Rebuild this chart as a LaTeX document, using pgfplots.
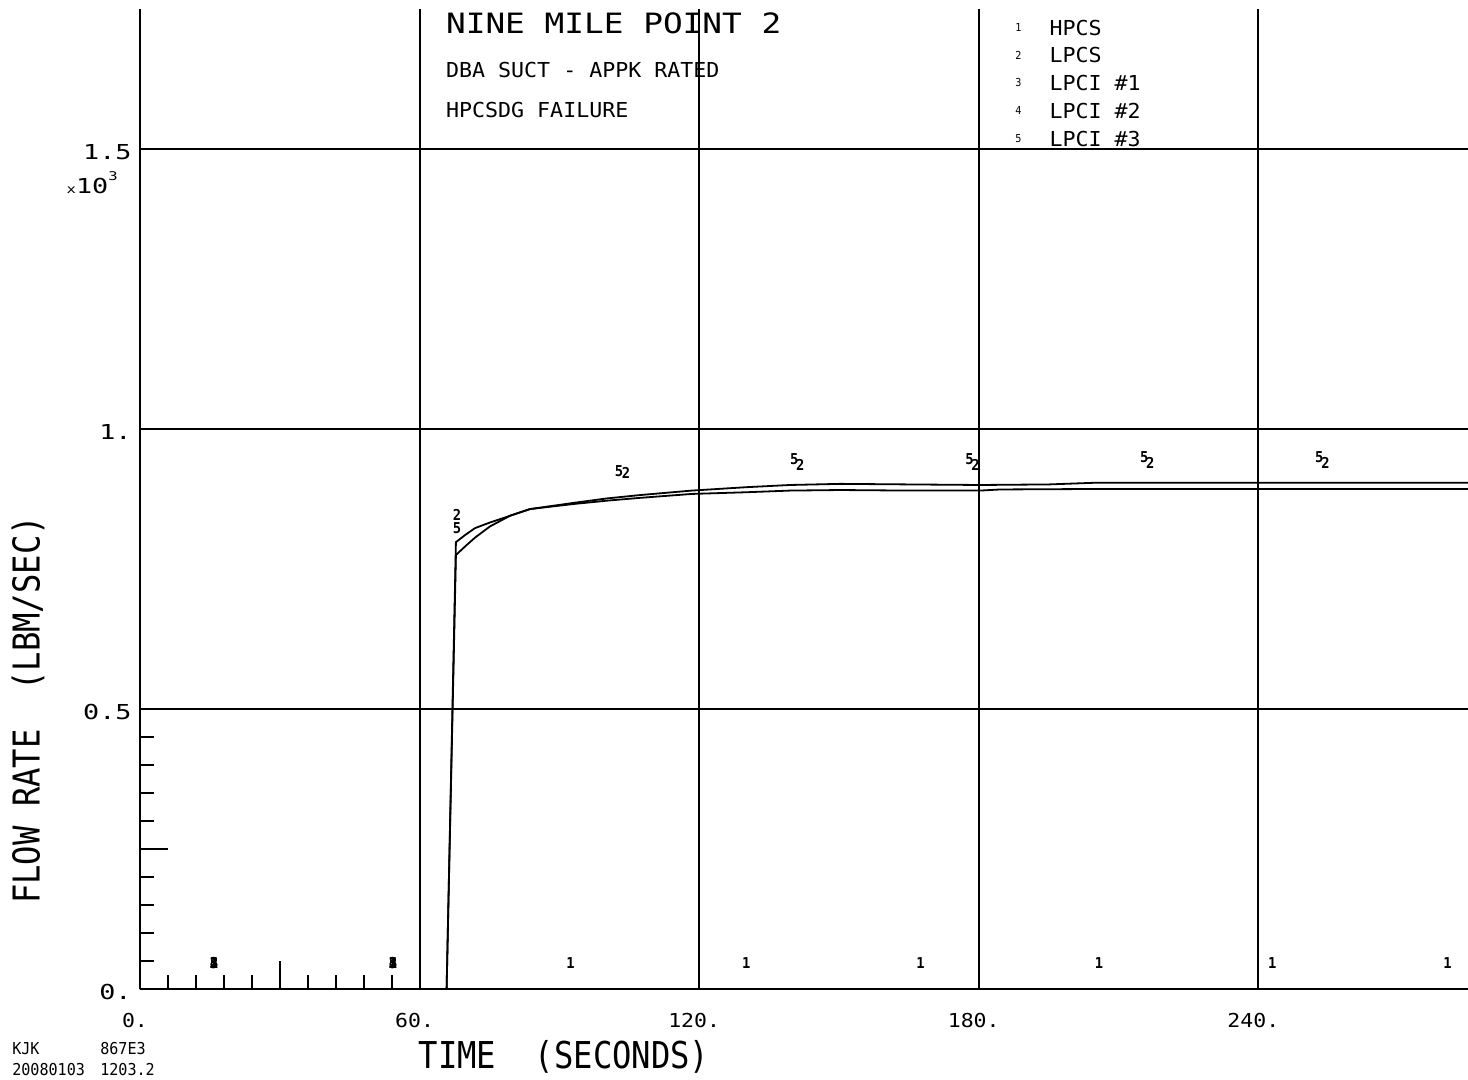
\documentclass[border=0pt]{standalone}
\usepackage{pgfplots}
\pgfplotsset{compat=1.18}
\usepackage{fontspec}
\setmainfont{DejaVu Sans Mono}
\newfontfamily\fTitle{DejaVu Sans Mono}[FakeStretch=1.17]
\newfontfamily\fSub{DejaVu Sans Mono}[FakeStretch=1.05]
\newfontfamily\fYtick{DejaVu Sans Mono}[FakeStretch=1.3]
\newfontfamily\fXtick{DejaVu Sans Mono}[FakeStretch=1.12]
\newfontfamily\fLab{DejaVu Sans Mono}[FakeStretch=0.87]
\newfontfamily\fSmall{DejaVu Sans Mono}[FakeStretch=0.92]
\newcommand\labfont{\fSmall\bfseries\fontsize{7.5}{8}\selectfont}
\newcommand\legdigit{\fSmall\fontsize{5.5}{6}\selectfont}

\pgfplotstableread{
t v
0 0
65.8 0
67.8 798
70 812
71.9 823
75.1 833
79.4 845
83.7 857
93 866
100.2 872
107.3 877
118.4 884
130 887
139.5 890
150.3 891
165 890
180.3 890
184.6 892
208 893
285 893
}\lpcs
\pgfplotstableread{
t v
0 0
65.8 0
67.8 775
70 792
71.9 806
75.1 826
79.4 845
83.7 857
93 868
100.2 876
107.3 882
118.4 890
130 896
139.5 900
150.3 902
165 901
180.3 900
195 901
205 904
285 904
}\lpcithree

\begin{document}
\begin{tikzpicture}
\begin{axis}[name=ax, scale only axis, width=664pt, height=490pt,
  xmin=0, xmax=285, ymin=0, ymax=1750,
  axis x line=bottom, axis y line=left,
  axis line style={-, line width=1pt},
  xtick={0,60,120,180,240}, xticklabels={0.,60.,120.,180.,240.},
  ytick={0,500,1000,1500}, yticklabels={0.,0.5,1.,1.5},
  major tick length=0pt,
  grid=major, major grid style={black, line width=1pt},
  xticklabel style={font=\fXtick\fontsize{9.6}{10}\selectfont, anchor=north, inner sep=0pt, yshift=-12pt, xshift=-2.5pt},
  yticklabel style={font=\fYtick\fontsize{10.3}{11}\selectfont, anchor=east, inner sep=0pt, xshift=-4pt, yshift=-1.5pt},
  xlabel={TIME\ \ (SECONDS)}, ylabel={FLOW RATE\ \ (LBM/SEC)},
  xlabel style={at={(rel axis cs:0.3193,-0.0694)}, anchor=center, inner sep=0pt, font=\fLab\fontsize{18.5}{19}\selectfont},
  ylabel style={at={(rel axis cs:-0.0843,0.2847)}, anchor=center, inner sep=0pt, font=\fLab\fontsize{18.5}{19}\selectfont},
  clip=false,
  legend style={at={(axis cs:187.8,1731)}, anchor=north west, draw=none, fill=none,
    inner sep=0pt, row sep=6.4pt, column sep=0pt,
    font=\fSub\fontsize{10.3}{11}\selectfont,
    nodes={inner sep=0pt, text height=7.5pt, text depth=0pt}},
  legend cell align=left,
  every axis plot/.append style={line width=0.9pt, black},
]
% curves
\addplot[mark=none, legend image code/.code={\node[font=\legdigit, inner sep=0pt, text height=3.8pt, anchor=center] at (0pt,0pt) {1}; \path[draw=none] (0pt,0pt) -- (15.5pt,0pt);}] coordinates {(0,0) (285,0)};
\addlegendentry{HPCS}
\addplot[mark=none, legend image code/.code={\node[font=\legdigit, inner sep=0pt, text height=3.8pt, anchor=center] at (0pt,0pt) {2}; \path[draw=none] (0pt,0pt) -- (15.5pt,0pt);}] table[x=t, y=v] {\lpcs};
\addlegendentry{LPCS}
\addplot[mark=none, legend image code/.code={\node[font=\legdigit, inner sep=0pt, text height=3.8pt, anchor=center] at (0pt,0pt) {3}; \path[draw=none] (0pt,0pt) -- (15.5pt,0pt);}] coordinates {(0,0) (285,0)};
\addlegendentry{LPCI \#1}
\addplot[mark=none, legend image code/.code={\node[font=\legdigit, inner sep=0pt, text height=3.8pt, anchor=center] at (0pt,0pt) {4}; \path[draw=none] (0pt,0pt) -- (15.5pt,0pt);}] coordinates {(0,0) (285,0)};
\addlegendentry{LPCI \#2}
\addplot[mark=none, legend image code/.code={\node[font=\legdigit, inner sep=0pt, text height=3.8pt, anchor=center] at (0pt,0pt) {5}; \path[draw=none] (0pt,0pt) -- (15.5pt,0pt);}] table[x=t, y=v] {\lpcithree};
\addlegendentry{LPCI \#3}

% curve symbols
\addplot[forget plot, draw=none, mark=none, nodes near coords={1},
  every node near coord/.style={anchor=center, yshift=13pt, inner sep=0pt, font=\labfont}]
  coordinates {(15.9,0) (54.3,0) (92.4,0) (130.1,0) (167.5,0) (205.8,0) (243,0) (280.6,0)};
\addplot[forget plot, draw=none, mark=none, nodes near coords={2},
  every node near coord/.style={anchor=center, yshift=13pt, inner sep=0pt, font=\labfont}]
  coordinates {(15.9,0) (54.3,0) (68.05,800) (104.3,875) (141.7,890) (179.3,890) (216.8,893) (254.4,893)};
\addplot[forget plot, draw=none, mark=none, nodes near coords={3},
  every node near coord/.style={anchor=center, yshift=13pt, inner sep=0pt, font=\labfont}]
  coordinates {(15.9,0) (54.3,0)};
\addplot[forget plot, draw=none, mark=none, nodes near coords={4},
  every node near coord/.style={anchor=center, yshift=13pt, inner sep=0pt, font=\labfont}]
  coordinates {(15.9,0) (54.3,0)};
\addplot[forget plot, draw=none, mark=none, nodes near coords={5},
  every node near coord/.style={anchor=center, yshift=13pt, inner sep=0pt, font=\labfont}]
  coordinates {(15.9,0) (54.3,0) (68.05,777) (102.8,878) (140.4,900) (178,900) (215.5,904) (253.1,904)};

% minor ticks in first cell
\pgfplotsinvokeforeach{6,12,18,24,36,42,48,54}{\draw[line width=0.9pt] (axis cs:#1,0) -- ++(0pt,7pt);}
\draw[line width=0.9pt] (axis cs:30,0) -- ++(0pt,14pt);
\pgfplotsinvokeforeach{50,100,150,200,300,350,400,450}{\draw[line width=0.9pt] (axis cs:0,#1) -- ++(7pt,0pt);}
\draw[line width=0.9pt] (axis cs:0,250) -- ++(14pt,0pt);

% titles
\node[anchor=west, inner sep=0pt, font=\fTitle\fontsize{14}{15}\selectfont] at (axis cs:65.6,1725) {NINE MILE POINT 2};
\node[anchor=west, inner sep=0pt, font=\fSub\fontsize{10.3}{11}\selectfont] at (axis cs:65.6,1641) {DBA SUCT - APPK RATED};
\node[anchor=west, inner sep=0pt, font=\fSub\fontsize{10.3}{11}\selectfont] at (axis cs:65.6,1569) {HPCSDG FAILURE};

% scale factor
\node[anchor=east, inner sep=0pt, font=\fYtick\fontsize{10.3}{11}\selectfont] at (axis cs:-4.7,1440) {{\fontsize{6}{6}\selectfont x}10\raisebox{1.2ex}{\fontsize{6}{6}\selectfont 3}};

% corner notes
\node[anchor=west, inner sep=0pt, font=\fSmall\fontsize{8.2}{9}\selectfont] at (axis cs:-27.5,-107) {KJK};
\node[anchor=west, inner sep=0pt, font=\fSmall\fontsize{8.2}{9}\selectfont] at (axis cs:-8.6,-107) {867E3};
\node[anchor=west, inner sep=0pt, font=\fSmall\fontsize{8.2}{9}\selectfont] at (axis cs:-27.5,-143) {20080103};
\node[anchor=west, inner sep=0pt, font=\fSmall\fontsize{8.2}{9}\selectfont] at (axis cs:-8.6,-143) {1203.2};
\end{axis}
\pgfresetboundingbox
\path[use as bounding box] ([shift={(-70pt,-45.5pt)}]ax.south west) rectangle ([shift={(0pt,4.5pt)}]ax.north east);
\end{tikzpicture}
\end{document}
